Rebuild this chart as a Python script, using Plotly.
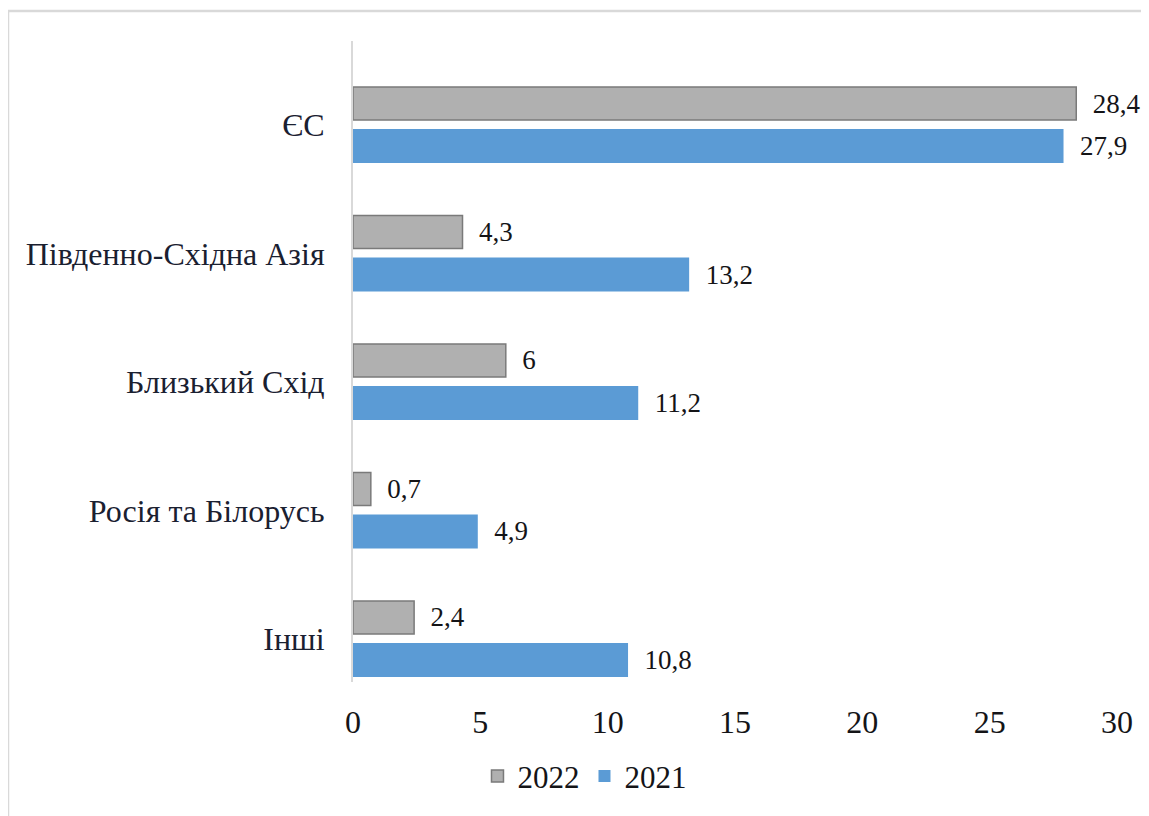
import plotly.graph_objects as go

# data
regions = ['ЄС', 'Південно-Східна Азія', 'Близький Схід', 'Росія та Білорусь', 'Інші']
y2022 = [28.4, 4.3, 6, 0.7, 2.4]
y2021 = [27.9, 13.2, 11.2, 4.9, 10.8]
x_ticks = [0, 5, 10, 15, 20, 25, 30]

FONT = 'Liberation Serif'
INK = '#141417'  # near-black text

fig = go.Figure()

fig.add_trace(go.Bar(
    y=regions, x=y2022, name='2022', orientation='h',
    marker=dict(color='#b0b0b0', line=dict(color='#7a7a7a', width=1.5)),
    width=0.257, offset=-0.296,
    texttemplate='\u00a0\u00a0%{x}', textposition='outside',
    textfont=dict(family=FONT, size=27, color=INK),
    cliponaxis=False
))
fig.add_trace(go.Bar(
    y=regions, x=y2021, name='2021', orientation='h',
    marker=dict(color='#5b9bd5', line=dict(width=0)),
    width=0.265, offset=0.031,
    texttemplate='\u00a0\u00a0%{x}', textposition='outside',
    textfont=dict(family=FONT, size=27, color=INK),
    cliponaxis=False
))

# page has an 8px body margin; plot area in screen pixels: x 353..1117, y 41..682
L, T = 345, 33
W, H = 1149, 816
pw, ph = 764, 641
R, B = W - L - pw, H - T - ph

fig.update_layout(
    width=W, height=H,
    margin=dict(l=L, r=R, t=T, b=B),
    barmode='group',
    separators=', ',
    plot_bgcolor='white', paper_bgcolor='white',
    font=dict(family=FONT),
    legend=dict(orientation='h', x=0.303, xanchor='center', y=-0.105, yanchor='top',
                font=dict(family=FONT, size=31, color=INK), traceorder='normal', itemwidth=30),
    showlegend=True,
    # chart border
    shapes=[dict(type='rect', xref='paper', yref='paper',
                 x0=(0 - L) / pw, x1=(W + 5 - L) / pw,
                 y0=-(H + 5 - (T + ph)) / ph, y1=(T + ph - 3) / ph,
                 line=dict(color='#d9d9d9', width=2.5))]
)

fig.update_xaxes(range=[0, 30], tickvals=x_ticks, showgrid=False, zeroline=False,
                 showline=False, ticks='', tickfont=dict(family=FONT, size=32, color=INK),
                 ticklabelstandoff=18)
fig.update_yaxes(type='category', range=[4.335, -0.654], showgrid=False, zeroline=False,
                 showline=True, linecolor='#d9d9d9', linewidth=2, ticks='',
                 tickfont=dict(family=FONT, size=32, color='#1a2030'), ticklabelstandoff=20)

fig.write_html('out.html')
